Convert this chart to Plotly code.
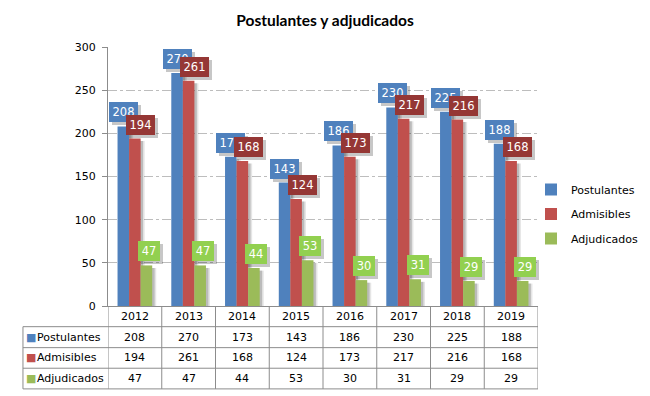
import plotly.graph_objects as go

# ---------------- data ----------------
years = ["2012", "2013", "2014", "2015", "2016", "2017", "2018", "2019"]
postulantes = [208, 270, 173, 143, 186, 230, 225, 188]
admisibles = [194, 261, 168, 124, 173, 217, 216, 168]
adjudicados = [47, 47, 44, 53, 30, 31, 29, 29]
series_names = ["Postulantes", "Admisibles", "Adjudicados"]
y_ticks = [0, 50, 100, 150, 200, 250, 300]

# ---------------- style ----------------
series_values = [postulantes, admisibles, adjudicados]
bar_colors = ["#4F81BD", "#C0504D", "#9BBB59"]
label_colors = ["#4F81BD", "#953735", "#92D050"]
label_nudge = [0, 6, 2.5]          # px horizontal nudge of data labels
FONT = "DejaVu Sans"
GRID = "#8C8C8C"

W, H = 650, 396
L, R, T, B = 107.5, 538.3, 46.7, 306.0   # plot area in px
PW, PH = R - L, B - T


def pxx(px):
    return (px - L) / PW


def pxy(py):
    return (B - py) / PH


BAR_W = 0.215
offsets = [-1.5 * BAR_W, -0.5 * BAR_W, 0.5 * BAR_W]

fig = go.Figure()

# soft shadows behind bars
for k, vals in enumerate(series_values):
    for shift, alpha in [(0.075, 0.10), (0.045, 0.18)]:
        fig.add_trace(go.Bar(
            x=years, y=vals, base=-3, width=BAR_W, offset=offsets[k] + shift,
            marker=dict(color=f"rgba(0,0,0,{alpha})", line=dict(width=0)),
            showlegend=False, hoverinfo="skip"))

for k, vals in enumerate(series_values):
    fig.add_trace(go.Bar(
        x=years, y=vals, name=series_names[k], width=BAR_W, offset=offsets[k],
        marker=dict(color=bar_colors[k], line=dict(width=0)),
        legendgroup=series_names[k]))

annotations = []
# data labels (shadow first, then box)
for k, vals in enumerate(series_values):
    for i, v in enumerate(vals):
        s = str(v)
        xc = i + offsets[k] + BAR_W / 2
        wbox = 7 * len(s) + 4
        annotations.append(dict(
            x=xc, y=v, xref="x", yref="y", text=" ", showarrow=False,
            yanchor="bottom", xanchor="center", xshift=label_nudge[k] + 3, yshift=1,
            bgcolor="rgba(0,0,0,0.22)", borderpad=2, borderwidth=0,
            width=wbox, height=16, font=dict(family=FONT, size=11)))
        annotations.append(dict(
            x=xc, y=v, xref="x", yref="y", text=s, showarrow=False,
            yanchor="bottom", xanchor="center", xshift=label_nudge[k], yshift=4,
            bgcolor=label_colors[k], borderpad=2, borderwidth=0,
            width=wbox, height=16, font=dict(family=FONT, size=11.5, color="white")))

# data table
row_edges = [306.0, 326.7, 347.7, 368.3, 389.0]
row_centers = [(row_edges[j] + row_edges[j + 1]) / 2 for j in range(4)]
TABLE_LEFT = 22.3
for i, yr in enumerate(years):
    annotations.append(dict(
        x=i, y=pxy(row_centers[0]), xref="x", yref="paper", text=yr,
        showarrow=False, xanchor="center", yanchor="middle",
        font=dict(family=FONT, size=11, color="black")))
for k, vals in enumerate(series_values):
    for i, v in enumerate(vals):
        annotations.append(dict(
            x=i, y=pxy(row_centers[k + 1]), xref="x", yref="paper", text=str(v),
            showarrow=False, xanchor="center", yanchor="middle",
            font=dict(family=FONT, size=11, color="black")))
    annotations.append(dict(
        x=pxx(TABLE_LEFT + 1.5), y=pxy(row_centers[k + 1]), xref="paper", yref="paper",
        text="■", showarrow=False, xanchor="left", yanchor="middle",
        font=dict(family=FONT, size=11, color=bar_colors[k])))
    annotations.append(dict(
        x=pxx(TABLE_LEFT + 12), y=pxy(row_centers[k + 1]), xref="paper", yref="paper",
        text=series_names[k], showarrow=False, xanchor="left", yanchor="middle",
        font=dict(family=FONT, size=11, color="black")))

shapes = []
n = len(years)
# vertical lines at category boundaries
for i in range(n + 1):
    shapes.append(dict(type="line", xref="x", yref="paper",
                       x0=i - 0.5, x1=i - 0.5, y0=0, y1=pxy(row_edges[-1]),
                       line=dict(color=GRID, width=1)))
# left border of the row-label column
shapes.append(dict(type="line", xref="paper", yref="paper",
                   x0=pxx(TABLE_LEFT), x1=pxx(TABLE_LEFT),
                   y0=pxy(row_edges[1]), y1=pxy(row_edges[-1]),
                   line=dict(color=GRID, width=1)))
for ye in row_edges[1:]:
    shapes.append(dict(type="line", xref="paper", yref="paper",
                       x0=pxx(TABLE_LEFT), x1=1, y0=pxy(ye), y1=pxy(ye),
                       line=dict(color=GRID, width=1)))

fig.update_layout(
    width=W, height=H,
    margin=dict(l=L, r=W - R, t=T, b=H - B, pad=0, autoexpand=False),
    paper_bgcolor="white", plot_bgcolor="white",
    barmode="overlay",
    title=dict(text="<b>Postulantes y adjudicados</b>", x=0.5, xanchor="center",
               y=1 - 21 / H, yanchor="middle", yref="container",
               font=dict(family="Lato", size=15.5, color="black")),
    xaxis=dict(type="category", range=[-0.5, n - 0.5], showticklabels=False,
               ticks="", showline=True, linecolor=GRID, linewidth=1,
               showgrid=False, zeroline=False, fixedrange=True),
    yaxis=dict(range=[0, 300], tickvals=y_ticks, ticks="outside", ticklen=5,
               tickcolor=GRID, showline=True, linecolor=GRID, linewidth=1,
               showgrid=True, gridcolor="#BDBDBD", griddash="dashdot", gridwidth=1,
               zeroline=False, ticklabelstandoff=4,
               tickfont=dict(family=FONT, size=11, color="black")),
    legend=dict(xref="container", yref="container", x=531 / W, y=1 - 175 / H,
                xanchor="left", yanchor="top", tracegroupgap=5.5,
                font=dict(family=FONT, size=11, color="black"),
                bgcolor="rgba(0,0,0,0)", itemwidth=30),
    annotations=annotations,
    shapes=shapes,
    showlegend=True,
)

fig.write_html("out.html",
               config={"displayModeBar": False},
               post_script="document.body.style.margin='0';document.body.style.padding='0';")
